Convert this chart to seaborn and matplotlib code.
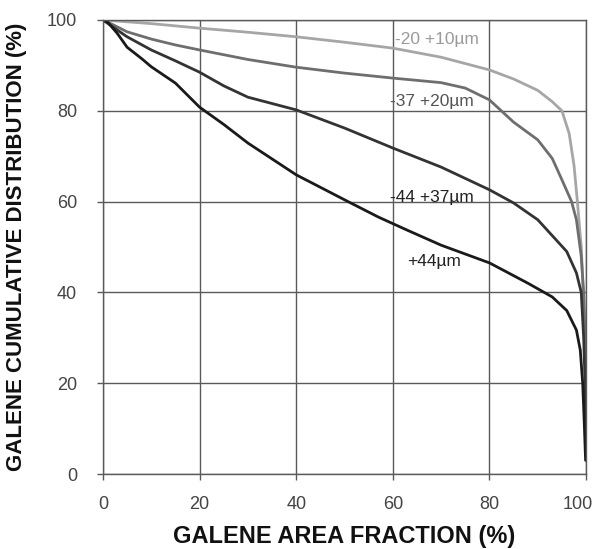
import pandas as pd
import numpy as np
import matplotlib.pyplot as plt
import matplotlib.transforms as mtransforms
import seaborn as sns

# size classes and curves
labels = ['-20 +10\u00b5m', '-37 +20\u00b5m', '-44 +37\u00b5m', '+44\u00b5m']

x_20_10 = [0, 5, 10, 20, 30, 40, 50, 60, 70, 80, 85, 90, 93, 95, 96.5, 97.5, 98.2, 99, 99.4, 99.7, 99.8]
y_20_10 = [100, 99.6, 99.2, 98.2, 97.3, 96.3, 95.1, 93.8, 91.8, 89, 87, 84.5, 82, 80, 75, 68, 60, 50, 40, 32, 28]

x_37_20 = [0, 2, 5, 10, 15, 20, 30, 40, 50, 60, 70, 75, 80, 85, 90, 93, 95, 97, 98, 99, 99.5, 99.8, 99.9]
y_37_20 = [100, 99, 97.4, 95.8, 94.5, 93.4, 91.3, 89.6, 88.3, 87.2, 86.2, 85, 82.4, 77.5, 73.6, 69.5, 64.8, 60, 56, 48, 40, 30, 20]

x_44_37 = [0, 2, 5, 10, 15, 20, 25, 30, 40, 50, 60, 70, 80, 85, 90, 93, 96, 98, 99, 99.5, 99.8, 99.9]
y_44_37 = [100, 98.5, 96.3, 93.4, 91, 88.5, 85.5, 83, 80.2, 76.2, 71.8, 67.6, 62.6, 59.7, 56, 52.5, 49, 44.3, 40, 30, 20, 10]

x_44 = [0, 1, 3, 5, 8, 10, 15, 20, 25, 30, 40, 50, 57, 63, 70, 80, 88, 93, 96, 98, 98.8, 99.3, 99.6, 99.8, 99.9]
y_44 = [100, 99.5, 97, 94, 91.5, 89.7, 86.1, 80.8, 77, 72.9, 65.9, 60.4, 56.6, 53.7, 50.4, 46.5, 42, 39, 36, 31.7, 27.3, 20, 12, 6, 3]

# label anchor positions (data units)
label_x = [60.5, 59.5, 59.5, 63]
label_y = [95.6, 82, 61, 46.7]

colors = ['#a6a6a6', '#6e6e6e', '#333333', '#1a1a1a']
text_colors = ['#9a9a9a', '#555555', '#222222', '#222222']

series = [(x_20_10, y_20_10), (x_37_20, y_37_20), (x_44_37, y_44_37), (x_44, y_44)]
frames = []
for lab, (xs, ys) in zip(labels, series):
    frames.append(pd.DataFrame({'x': xs, 'y': ys, 'size': lab}))
df = pd.concat(frames, ignore_index=True)

sns.set_style('white')
plt.rcParams['font.family'] = ['Liberation Sans', 'DejaVu Sans']

fig = plt.figure(figsize=(5.95, 5.49), dpi=100)
ax = fig.add_axes([0.173, 0.1366, 0.812, 0.827])

for lab, c in zip(labels, colors):
    sub = df[df['size'] == lab]
    sns.lineplot(data=sub, x='x', y='y', ax=ax, color=c, linewidth=2.0,
                 sort=False, estimator=None, legend=False)

for lab, lx, ly, tc in zip(labels, label_x, label_y, text_colors):
    ax.text(lx, ly, lab, color=tc, fontsize=12.5, va='center', ha='left')

ax.set_xlim(0, 100)
ax.set_ylim(0, 100)
ax.set_xticks(np.arange(0, 101, 20))
ax.set_yticks(np.arange(0, 101, 20))
ax.grid(True, color='#5a5a5a', linewidth=1.0)
for s in ax.spines.values():
    s.set_color('#5a5a5a')
    s.set_linewidth(1.0)
ax.tick_params(axis='both', direction='out', length=4.5, width=1, color='#5a5a5a',
               labelsize=13, labelcolor='#444444', bottom=True, left=True)
ax.tick_params(axis='y', pad=14)
ax.tick_params(axis='x', pad=11)

# last x label sits against the right edge, pull it in a little
last = ax.get_xticklabels()[-1]
last.set_transform(last.get_transform() + mtransforms.ScaledTranslation(-0.08, 0, fig.dpi_scale_trans))

ax.set_xlabel('GALENE AREA FRACTION (%)', fontsize=17, fontweight='bold', color='#111111')
ax.set_ylabel('GALENE CUMULATIVE DISTRIBUTION (%)', fontsize=16, fontweight='bold', color='#111111')
ax.xaxis.set_label_coords(0.5, -0.112)
ax.yaxis.set_label_coords(-0.157, 0.5)

fig.savefig('out.png', dpi=100)
